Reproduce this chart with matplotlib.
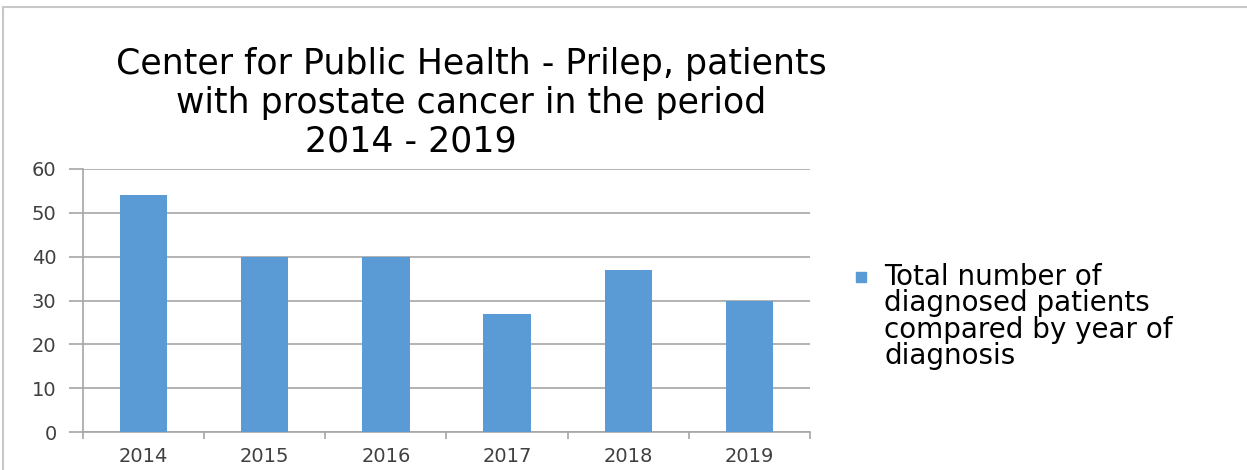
import matplotlib.pyplot as plt
from matplotlib.patches import Rectangle

# the original text is horizontally stretched, so use the wide DejaVu Sans
plt.rcParams['font.family'] = ['DejaVu Sans']

years = ['2014', '2015', '2016', '2017', '2018', '2019']
patients = [54, 40, 40, 27, 37, 30]
series_label = 'Total number of\ndiagnosed patients\ncompared by year of\ndiagnosis'
title_lines = ['Center for Public Health - Prilep, patients',
               'with prostate cancer in the period',
               '2014 - 2019']

W, H = 1247, 470
fig = plt.figure(figsize=(W / 100, H / 100), dpi=100)

# outer frame of the pasted chart
fig.patches.append(Rectangle((3 / W, -0.05), 1.2, (H - 7) / H + 0.05,
                             transform=fig.transFigure, fill=False,
                             edgecolor='#c8c8c8', linewidth=1.5))

ax = fig.add_axes([83 / W, 38 / H, (810 - 83) / W, (432 - 169) / H])
bar_color = '#5b9bd5'
x = range(len(years))
ax.bar(x, patients, width=0.39, color=bar_color, zorder=3)

ax.set_xlim(-0.5, len(years) - 0.5)
ax.set_ylim(0, 60)
ax.set_yticks(range(0, 61, 10))
ax.grid(axis='y', color='#a6a6a6', linewidth=1.2, zorder=0)
ax.set_xticks(list(x))
ax.set_xticklabels(years)
ax.set_xticks([i - 0.5 for i in range(len(years) + 1)], minor=True)
ax.tick_params(axis='x', which='major', length=0, pad=11, labelsize=14, labelcolor='#404040')
ax.tick_params(axis='x', which='minor', length=5, color='#a6a6a6', width=1.2)
ax.tick_params(axis='y', length=10, color='#a6a6a6', width=1.2, pad=9,
               labelsize=14, labelcolor='#404040')
for s in ['top', 'right']:
    ax.spines[s].set_visible(False)
for s in ['left', 'bottom']:
    ax.spines[s].set_color('#a6a6a6')
    ax.spines[s].set_linewidth(1.2)

# title, three lines as in the original
fig.text(471 / W, 1 - 74 / H, title_lines[0], ha='center', va='baseline', fontsize=25)
fig.text(471 / W, 1 - 113 / H, title_lines[1], ha='center', va='baseline', fontsize=25)
fig.text(411 / W, 1 - 152 / H, title_lines[2], ha='center', va='baseline', fontsize=25)

# legend
fig.patches.append(Rectangle((856 / W, 1 - 282 / H), 10 / W, 10 / H,
                             transform=fig.transFigure, color=bar_color))
fig.text(884 / W, 1 - 263 / H, series_label, ha='left', va='top',
         fontsize=20, linespacing=0.93)

fig.savefig('out.png', dpi=100)
